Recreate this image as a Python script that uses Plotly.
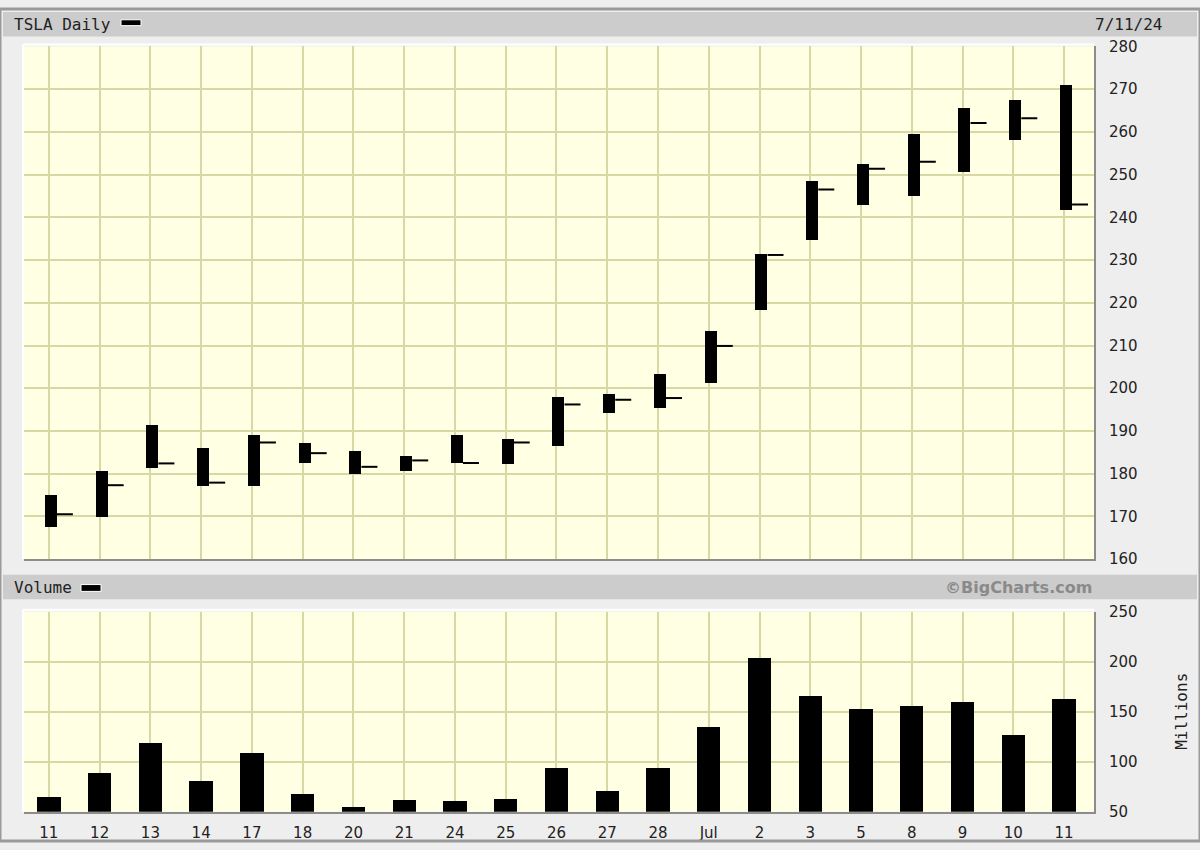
import plotly.graph_objects as go

# daily bars (Jun 11 - Jul 11, 2024)
day_labels = ["11", "12", "13", "14", "17", "18", "20", "21", "24", "25", "26",
              "27", "28", "Jul", "2", "3", "5", "8", "9", "10", "11"]
highs = [174.8, 180.5, 191.2, 185.9, 189.0, 187.1, 185.2, 184.0, 189.0, 187.9, 197.8,
         198.6, 203.2, 213.2, 231.2, 248.5, 252.3, 259.5, 265.6, 267.4, 270.9]
lows = [167.5, 169.8, 181.3, 177.1, 177.1, 182.4, 179.8, 180.6, 182.5, 182.1, 186.3,
        194.1, 195.2, 201.0, 218.2, 234.5, 242.8, 244.8, 250.5, 258.0, 241.7]
closes = [170.5, 177.3, 182.4, 177.9, 187.3, 184.8, 181.6, 183.1, 182.5, 187.3, 196.2,
          197.3, 197.7, 209.9, 231.2, 246.5, 251.4, 253.0, 262.1, 263.2, 243.0]
volumes = [65, 89, 119, 81, 109, 68, 55, 62, 61, 63, 94,
           71, 94, 135, 204, 166, 153, 156, 160, 127, 163]

price_ticks = [160, 170, 180, 190, 200, 210, 220, 230, 240, 250, 260, 270, 280]
volume_ticks = [50, 100, 150, 200, 250]

W, H = 1200, 850
BG = "#eeeeee"
PLOT_BG = "#ffffe4"
GRID = "#d8d8a4"
MONO = "DejaVu Sans Mono"


def px(x):
    return x / W


def py(y):
    return 1 - y / H


xs = list(range(len(day_labels)))
# close tick sits to the right of each range bar
tick_x, tick_y = [], []
for i, c in zip(xs, closes):
    tick_x += [i + 0.158, i + 0.473, None]
    tick_y += [c, c, None]

fig = go.Figure()
fig.add_trace(go.Bar(x=xs, y=[h - l for h, l in zip(highs, lows)], base=lows,
                     width=0.236, offset=-0.08, marker_color="black",
                     marker_line_width=0, xaxis="x", yaxis="y", hoverinfo="skip"))
fig.add_trace(go.Scatter(x=tick_x, y=tick_y, mode="lines",
                         line=dict(color="black", width=2),
                         xaxis="x", yaxis="y", hoverinfo="skip"))
fig.add_trace(go.Bar(x=xs, y=volumes, width=0.46, marker_color="black",
                     marker_line_width=0, xaxis="x2", yaxis="y2", hoverinfo="skip"))

x_dom = [px(24), px(1094)]
axis_common = dict(showgrid=True, gridcolor=GRID, gridwidth=2, zeroline=False,
                   showline=True, linecolor="#8c8c8c", linewidth=2, ticks="",
                   tickfont=dict(family="DejaVu Sans", size=15, color="#222222"))

fig.update_layout(
    width=W, height=H,
    margin=dict(l=0, r=0, t=0, b=0),
    paper_bgcolor=BG, plot_bgcolor=PLOT_BG,
    showlegend=False, bargap=0,
    xaxis=dict(domain=x_dom, anchor="y", range=[-0.49, 20.59], tickvals=xs,
               showticklabels=False, **axis_common),
    yaxis=dict(domain=[py(562), py(38.3)], anchor="x", side="right", range=[160, 280],
               tickvals=price_ticks, ticklabelstandoff=10, **axis_common),
    xaxis2=dict(domain=x_dom, anchor="y2", range=[-0.49, 20.59], tickvals=xs,
                ticktext=day_labels, ticklabelstandoff=6, **axis_common),
    yaxis2=dict(domain=[py(820), py(615.7)], anchor="x2", side="right", range=[50, 250],
                tickvals=volume_ticks, ticklabelstandoff=10, **axis_common),
)

shapes = [
    # header bars
    dict(type="rect", xref="paper", yref="paper", x0=px(3), x1=px(1197), y0=py(28), y1=py(3),
         fillcolor="#cccccc", line_width=0, layer="below"),
    dict(type="rect", xref="paper", yref="paper", x0=px(3), x1=px(1197), y0=py(603), y1=py(578),
         fillcolor="#cccccc", line_width=0, layer="below"),
    # legend swatches
    dict(type="rect", xref="paper", yref="paper", x0=px(121), x1=px(141), y0=py(17), y1=py(11),
         fillcolor="black", line=dict(color="white", width=1)),
    dict(type="rect", xref="paper", yref="paper", x0=px(81), x1=px(101), y0=py(595), y1=py(588),
         fillcolor="black", line=dict(color="white", width=1)),
    # outer frame
    dict(type="rect", xref="paper", yref="paper", x0=0, x1=1, y0=0, y1=1,
         line=dict(color="#9a9a9a", width=3)),
]
# light top/left edges of the two plot boxes
for top, bottom in [(38.3, 562), (615.7, 820)]:
    shapes.append(dict(type="line", xref="paper", yref="paper", x0=px(23), x1=px(1094),
                       y0=py(top - 2), y1=py(top - 2), line=dict(color="#ffffff", width=2)))
    shapes.append(dict(type="line", xref="paper", yref="paper", x0=px(23), x1=px(23),
                       y0=py(bottom), y1=py(top - 2), line=dict(color="#ffffff", width=2)))
fig.update_layout(shapes=shapes)

head_font = dict(family=MONO, size=16, color="#222222")
annotations = [
    dict(text="TSLA Daily", x=px(12), y=py(16), xanchor="left", yanchor="middle", font=head_font),
    dict(text="7/11/24", x=px(1164), y=py(16), xanchor="right", yanchor="middle", font=head_font),
    dict(text="Volume", x=px(12), y=py(591), xanchor="left", yanchor="middle", font=head_font),
    dict(text="<b>©BigCharts.com</b>", x=px(1094), y=py(591), xanchor="right", yanchor="middle",
         font=dict(family="DejaVu Sans", size=16, color="#8a8a8a")),
    dict(text="Millions", x=px(1182), y=py(718), xanchor="center", yanchor="middle",
         textangle=-90, font=head_font),
]
for a in annotations:
    a.update(xref="paper", yref="paper", showarrow=False)
fig.update_layout(annotations=annotations)

# drop the browser's default page margin so the figure fills the window
fig.write_html("out.html", config={"displayModeBar": False},
               post_script="document.body.style.margin='0px';")
